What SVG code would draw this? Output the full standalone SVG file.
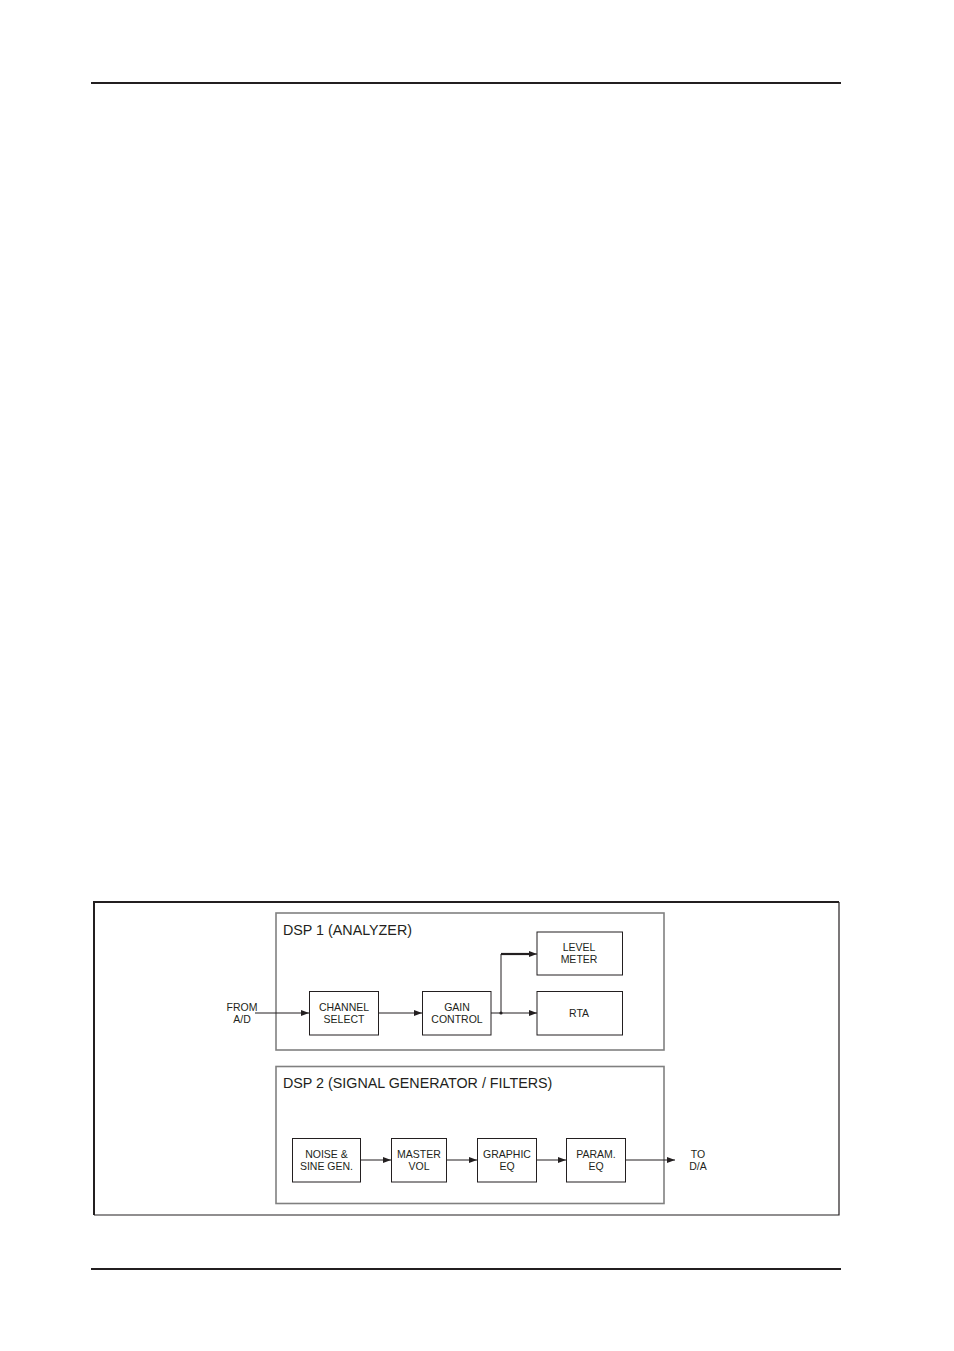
<svg xmlns="http://www.w3.org/2000/svg" width="954" height="1351" viewBox="0 0 954 1351">
<defs>
<style>
text{font-family:"Liberation Sans",Arial,sans-serif;fill:#231f20}
.lbl{font-size:10.5px;text-anchor:middle}
.ttl{font-size:14.3px}
.blk{fill:#fff;stroke:#231f20;stroke-width:1}
.dsp{fill:none;stroke:#808080;stroke-width:1.6}
.wire{fill:none;stroke:#231f20;stroke-width:1;marker-end:url(#ah)}
</style>
<marker id="ah" viewBox="0 0 8 6" refX="8" refY="3" markerWidth="8" markerHeight="6" markerUnits="userSpaceOnUse" orient="auto">
<path d="M0,0 L8,3 L0,6 Z" fill="#231f20"/>
</marker>
</defs>
<rect width="954" height="1351" fill="#fff"/>
<line x1="91" y1="83" x2="841" y2="83" stroke="#231f20" stroke-width="2"/>
<line x1="91" y1="1269" x2="841" y2="1269" stroke="#231f20" stroke-width="2"/>
<g id="frame">
<path d="M94,1215 V902 H839" fill="none" stroke="#231f20" stroke-width="2"/>
<path d="M839,902 V1215 H94" fill="none" stroke="#231f20" stroke-width="1.2"/>
</g>
<g id="dsp1">
<rect class="dsp" x="276" y="913" width="388" height="137"/>
<text class="ttl" x="283" y="935">DSP 1 (ANALYZER)</text>
</g>
<g id="dsp2">
<rect class="dsp" x="276" y="1066.5" width="388" height="137"/>
<text class="ttl" x="283" y="1088">DSP 2 (SIGNAL GENERATOR / FILTERS)</text>
</g>
<g id="from-ad"><text class="lbl" x="242" y="1011">FROM</text><text class="lbl" x="242" y="1023">A/D</text></g>
<g id="to-da"><text class="lbl" x="698" y="1158">TO</text><text class="lbl" x="698" y="1170">D/A</text></g>
<g id="channel-select"><rect class="blk" x="309.5" y="991.5" width="69" height="43.5"/><text class="lbl" x="344" y="1011">CHANNEL</text><text class="lbl" x="344" y="1023">SELECT</text></g>
<g id="gain-control"><rect class="blk" x="422.5" y="991.5" width="68.5" height="43.5"/><text class="lbl" x="457" y="1011">GAIN</text><text class="lbl" x="457" y="1023">CONTROL</text></g>
<g id="level-meter"><rect class="blk" x="537" y="932" width="85.5" height="43"/><text class="lbl" x="579" y="951">LEVEL</text><text class="lbl" x="579" y="963">METER</text></g>
<g id="rta"><rect class="blk" x="537" y="991.5" width="85.5" height="43.5"/><text class="lbl" x="579" y="1017">RTA</text></g>
<g id="noise-sine"><rect class="blk" x="292.5" y="1138.5" width="68" height="43.5"/><text class="lbl" x="326.5" y="1158">NOISE &amp;</text><text class="lbl" x="326.5" y="1170">SINE GEN.</text></g>
<g id="master-vol"><rect class="blk" x="391.5" y="1138.5" width="55" height="43.5"/><text class="lbl" x="419" y="1158">MASTER</text><text class="lbl" x="419" y="1170">VOL</text></g>
<g id="graphic-eq"><rect class="blk" x="477.5" y="1138.5" width="59" height="43.5"/><text class="lbl" x="507" y="1158">GRAPHIC</text><text class="lbl" x="507" y="1170">EQ</text></g>
<g id="param-eq"><rect class="blk" x="566.5" y="1138.5" width="59" height="43.5"/><text class="lbl" x="596" y="1158">PARAM.</text><text class="lbl" x="596" y="1170">EQ</text></g>
<g id="connectors">
<line class="wire" x1="255" y1="1013" x2="309" y2="1013"/>
<line class="wire" x1="379" y1="1013" x2="422" y2="1013"/>
<line class="wire" x1="491" y1="1013" x2="537" y2="1013"/>
<path class="wire" d="M501,1013 V954 H537" stroke-width="1.2"/>
<path d="M501,954 H529" stroke="#231f20" stroke-width="2.2" fill="none"/>
<circle cx="501" cy="1013" r="1.6" fill="#231f20"/>
<line class="wire" x1="361" y1="1160" x2="391" y2="1160"/>
<line class="wire" x1="447" y1="1160" x2="477" y2="1160"/>
<line class="wire" x1="537" y1="1160" x2="566" y2="1160"/>
<line class="wire" x1="626" y1="1160" x2="675" y2="1160"/>
</g>
</svg>
